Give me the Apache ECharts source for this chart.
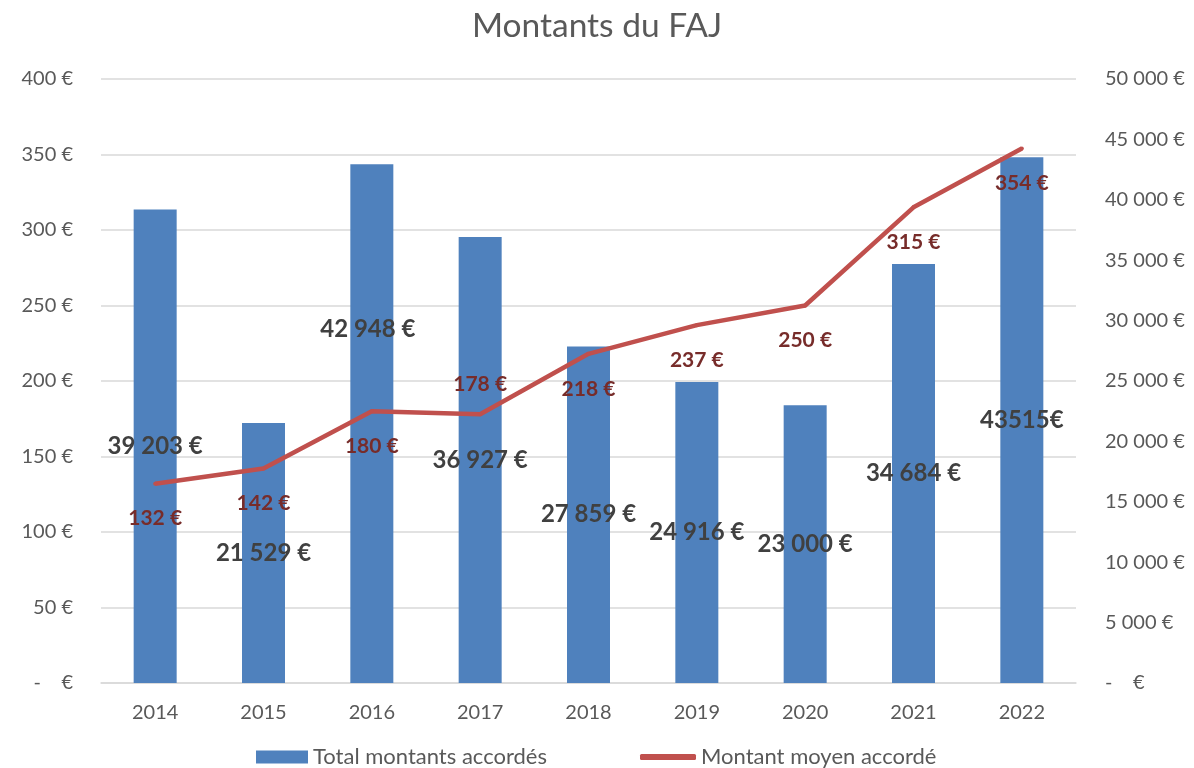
<!DOCTYPE html>
<html>
<head>
<meta charset="utf-8">
<script src="https://cdn.jsdelivr.net/npm/echarts@6/dist/echarts.min.js"></script>
<style>
html,body{margin:0;padding:0;background:#fff;}
#chart{width:1194px;height:768px;}
</style>
</head>
<body>
<div id="chart"></div>
<script>
const years = ['2014','2015','2016','2017','2018','2019','2020','2021','2022'];
const totalMontants = [39203, 21529, 42948, 36927, 27859, 24916, 23000, 34684, 43515];
const totalLabels = ['39 203 €','21 529 €','42 948 €','36 927 €','27 859 €','24 916 €','23 000 €','34 684 €','43515€'];
const montantMoyen = [132, 142, 180, 178, 218, 237, 250, 315, 354];
const titleText = 'Montants du FAJ';
const seriesNames = ['Total montants accordés', 'Montant moyen accordé'];

const FONT = 'Lato';
function sep(v){ return String(v).replace(/\B(?=(\d{3})+(?!\d))/g, ' '); }

const barData = totalMontants.map((v, i) => {
  const item = { value: v };
  if (i === 2) item.label = { offset: [-4, -94] };
  return item;
});
const lineData = montantMoyen.map((v, i) => {
  const item = { value: v };
  if (i === 3) item.label = { offset: [0, -30] };
  return item;
});

const chart = echarts.init(document.getElementById('chart'), null, {renderer: 'canvas'});
chart.setOption({
  backgroundColor: '#ffffff',
  animation: false,
  textStyle: { fontFamily: FONT },
  title: {
    text: titleText, left: 'center', top: 4,
    textStyle: { fontFamily: FONT, fontSize: 33.5, fontWeight: 'normal', color: '#595959' }
  },
  legend: [
    {
      data: [{ name: seriesNames[0], icon: 'rect' }],
      left: 251, top: 741, itemWidth: 52, itemHeight: 13,
      textStyle: { fontFamily: FONT, fontSize: 22, color: '#595959' }
    },
    {
      data: [{ name: seriesNames[1], icon: 'roundRect' }],
      left: 635, top: 741, itemWidth: 56, itemHeight: 6,
      textStyle: { fontFamily: FONT, fontSize: 22, color: '#595959' }
    }
  ],
  grid: { left: 101, right: 118, top: 79, bottom: 85, containLabel: false },
  xAxis: {
    type: 'category', data: years,
    axisLine: { show: true, lineStyle: { color: '#d9d9d9', width: 1.5 } },
    axisTick: { show: false },
    axisLabel: { fontFamily: FONT, fontSize: 20, color: '#595959', margin: 20 }
  },
  yAxis: [
    {
      type: 'value', min: 0, max: 400, interval: 50, position: 'left',
      axisLine: { show: false }, axisTick: { show: false },
      splitLine: { show: true, lineStyle: { color: '#d9d9d9', width: 1.5 } },
      axisLabel: {
        fontFamily: FONT, fontSize: 20, color: '#595959', margin: 28,
        formatter: v => v === 0 ? '-    €' : v + ' €'
      }
    },
    {
      type: 'value', min: 0, max: 50000, interval: 5000, position: 'right',
      axisLine: { show: false }, axisTick: { show: false },
      splitLine: { show: false },
      axisLabel: {
        fontFamily: FONT, fontSize: 20, color: '#595959', margin: 29,
        formatter: v => v === 0 ? '-    €' : sep(v) + ' €'
      }
    }
  ],
  series: [
    {
      name: seriesNames[0], type: 'bar', yAxisIndex: 1, data: barData,
      barWidth: 43,
      itemStyle: { color: '#4f81bd' },
      label: {
        show: true, position: 'inside',
        fontFamily: FONT, fontSize: 24, fontWeight: 'bold', color: '#404040',
        formatter: p => totalLabels[p.dataIndex]
      },
      z: 2
    },
    {
      name: seriesNames[1], type: 'line', yAxisIndex: 0, data: lineData,
      symbol: 'circle', symbolSize: 4, showSymbol: true,
      itemStyle: { color: '#c0504d' },
      lineStyle: { color: '#c0504d', width: 4.5 },
      label: {
        show: true, position: 'inside', offset: [0, 35],
        fontFamily: FONT, fontSize: 21, fontWeight: 'bold', color: '#772c2a',
        formatter: p => p.value + ' €'
      },
      z: 3
    }
  ]
});
</script>
</body>
</html>
